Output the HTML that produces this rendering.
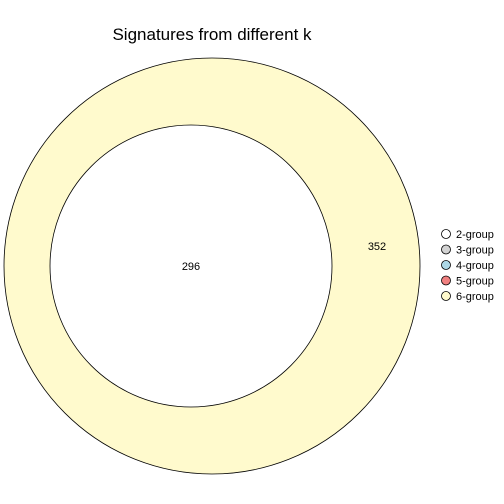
<!DOCTYPE html>
<html><head><meta charset="utf-8"><style>body{margin:0;background:#fff}svg{display:block}text{font-family:"Liberation Sans",sans-serif}</style></head>
<body>
<svg width="504" height="504" viewBox="0 0 504 504">
<text x="212" y="40" font-size="17" text-anchor="middle">Signatures from different k</text>
<g id="sets"></g>
<g id="legend"></g>
</svg>
<script>
const groups=["2-group","3-group","4-group","5-group","6-group"];
const colors=["#ffffff","#d3d3d3","#add8e6","#f08080","#fffacd"];
const setSizes=[352,296];
const setColors=["#fffacd","#ffffff"];
const labels=["352","296"];
const ns="http://www.w3.org/2000/svg";
const sets=document.getElementById('sets');
// outer circle radius 208 for 352; inner scaled by sqrt of area ratio
const rOuter=208;
const circles=[{cx:212,cy:266},{cx:191,cy:266}];
const labelPos=[{x:377,y:250},{x:191,y:270}];
setSizes.forEach((s,i)=>{
 const c=document.createElementNS(ns,'circle');
 const r=i===0?rOuter:141*Math.sqrt(s/296);
 c.setAttribute('cx',circles[i].cx);c.setAttribute('cy',circles[i].cy);c.setAttribute('r',r);
 c.setAttribute('fill',setColors[i]);c.setAttribute('stroke','#000');c.setAttribute('stroke-width','0.8');
 
 
 sets.appendChild(c);
});
labels.forEach((l,i)=>{
 const t=document.createElementNS(ns,'text');
 t.setAttribute('x',labelPos[i].x);t.setAttribute('y',labelPos[i].y);t.setAttribute('font-size','11');t.setAttribute('text-anchor','middle');
 t.textContent=l;
 
 
 sets.appendChild(t);
});
const lg=document.getElementById('legend');
groups.forEach((g,i)=>{
 const y=234+i*15.5;
 const c=document.createElementNS(ns,'circle');
 c.setAttribute('cx',446);c.setAttribute('cy',y);c.setAttribute('r',4.5);c.setAttribute('fill',colors[i]);c.setAttribute('stroke','#000');c.setAttribute('stroke-width','0.8');
 
 
 lg.appendChild(c);
 const t=document.createElementNS(ns,'text');
 t.setAttribute('x',456);t.setAttribute('y',y+4);t.setAttribute('font-size','11');
 t.textContent=g;
 
 
 lg.appendChild(t);
});
</script>
</body></html>
